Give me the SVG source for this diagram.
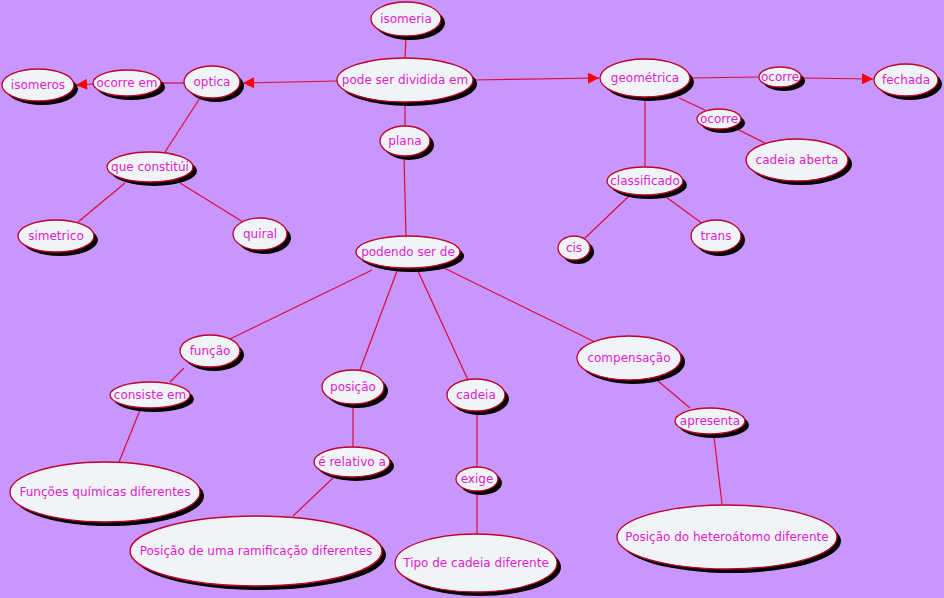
<svg xmlns="http://www.w3.org/2000/svg" width="944" height="598" viewBox="0 0 944 598">
<defs>
<marker id="arr" viewBox="0 0 10 10" refX="10" refY="5" markerWidth="12" markerHeight="11" markerUnits="userSpaceOnUse" orient="auto">
<path d="M0,0 L10,5 L0,10 Z" fill="#ff0000"/>
</marker>
</defs>
<style>
.bg{fill:#c896fd}
.sh{fill:#000000}
.nd{fill:#f0f4f6;stroke:#c0002a;stroke-width:1.3}
.t{font-family:"DejaVu Sans","Liberation Sans",sans-serif;font-size:12px;fill:#e020d0;text-anchor:middle;dominant-baseline:central}
.c line{stroke:#dc0a3a;stroke-width:1.2}
.c line.a{marker-end:url(#arr)}
</style>
<rect class="bg" x="0" y="0" width="944" height="598"/>
<g class="c" id="connectors">
<line x1="406" y1="37" x2="405" y2="58"/>
<line class="a" x1="337" y1="81" x2="243" y2="83"/>
<line x1="184" y1="83" x2="161" y2="83"/>
<line class="a" x1="93" y1="84" x2="76" y2="85"/>
<line class="a" x1="473" y1="80" x2="599" y2="78"/>
<line x1="690" y1="78" x2="759" y2="77"/>
<line class="a" x1="802" y1="78" x2="873" y2="79"/>
<line x1="679" y1="98" x2="705" y2="110"/>
<line x1="735" y1="128" x2="765" y2="143"/>
<line x1="645" y1="98" x2="645" y2="168"/>
<line x1="628" y1="197" x2="585" y2="238"/>
<line x1="666" y1="197" x2="703" y2="224"/>
<line x1="405" y1="102" x2="405" y2="126"/>
<line x1="404" y1="157" x2="406" y2="236"/>
<line x1="200" y1="98" x2="165" y2="152"/>
<line x1="125" y1="183" x2="78" y2="222"/>
<line x1="180" y1="183" x2="243" y2="222"/>
<line x1="372" y1="270" x2="228" y2="340"/>
<line x1="184" y1="368" x2="170" y2="382"/>
<line x1="140" y1="410" x2="119" y2="462"/>
<line x1="397" y1="271" x2="360" y2="370"/>
<line x1="353" y1="404" x2="353" y2="447"/>
<line x1="333" y1="478" x2="293" y2="516"/>
<line x1="418" y1="271" x2="468" y2="380"/>
<line x1="477" y1="412" x2="477" y2="467"/>
<line x1="477" y1="494" x2="477" y2="534"/>
<line x1="440" y1="266" x2="595" y2="342"/>
<line x1="658" y1="381" x2="690" y2="408"/>
<line x1="714" y1="437" x2="722" y2="504"/>
</g>
<g id="n-isomeria"><ellipse class="sh" cx="410" cy="23" rx="35" ry="17"/><ellipse class="nd" cx="406" cy="19" rx="35" ry="17"/><text class="t" x="406" y="19">isomeria</text></g>
<g id="n-pode"><ellipse class="sh" cx="409" cy="84" rx="68" ry="22"/><ellipse class="nd" cx="405" cy="80" rx="68" ry="22"/><text class="t" x="405" y="80">pode ser dividida em</text></g>
<g id="n-isomeros"><ellipse class="sh" cx="42" cy="89" rx="36" ry="16"/><ellipse class="nd" cx="38" cy="85" rx="36" ry="16"/><text class="t" x="38" y="85">isomeros</text></g>
<g id="n-ocorre-em"><ellipse class="sh" cx="131" cy="87" rx="34" ry="13"/><ellipse class="nd" cx="127" cy="83" rx="34" ry="13"/><text class="t" x="127" y="83">ocorre em</text></g>
<g id="n-optica"><ellipse class="sh" cx="216" cy="86" rx="28" ry="16"/><ellipse class="nd" cx="212" cy="82" rx="28" ry="16"/><text class="t" x="212" y="82">optica</text></g>
<g id="n-geometrica"><ellipse class="sh" cx="649" cy="82" rx="45" ry="19"/><ellipse class="nd" cx="645" cy="78" rx="45" ry="19"/><text class="t" x="645" y="78">geométrica</text></g>
<g id="n-ocorre1"><ellipse class="sh" cx="784" cy="81" rx="21" ry="10"/><ellipse class="nd" cx="780" cy="77" rx="21" ry="10"/><text class="t" x="780" y="77">ocorre</text></g>
<g id="n-fechada"><ellipse class="sh" cx="910" cy="84" rx="32" ry="16"/><ellipse class="nd" cx="906" cy="80" rx="32" ry="16"/><text class="t" x="906" y="80">fechada</text></g>
<g id="n-ocorre2"><ellipse class="sh" cx="723" cy="123" rx="22" ry="10"/><ellipse class="nd" cx="719" cy="119" rx="22" ry="10"/><text class="t" x="719" y="119">ocorre</text></g>
<g id="n-cadeia-aberta"><ellipse class="sh" cx="801" cy="164" rx="51" ry="21"/><ellipse class="nd" cx="797" cy="160" rx="51" ry="21"/><text class="t" x="797" y="160">cadeia aberta</text></g>
<g id="n-plana"><ellipse class="sh" cx="409" cy="145" rx="25" ry="15"/><ellipse class="nd" cx="405" cy="141" rx="25" ry="15"/><text class="t" x="405" y="141">plana</text></g>
<g id="n-que-constitui"><ellipse class="sh" cx="154" cy="171" rx="43" ry="15"/><ellipse class="nd" cx="150" cy="167" rx="43" ry="15"/><text class="t" x="150" y="167">que constitúi</text></g>
<g id="n-simetrico"><ellipse class="sh" cx="60" cy="240" rx="38" ry="16"/><ellipse class="nd" cx="56" cy="236" rx="38" ry="16"/><text class="t" x="56" y="236">simetrico</text></g>
<g id="n-quiral"><ellipse class="sh" cx="264" cy="238" rx="27" ry="16"/><ellipse class="nd" cx="260" cy="234" rx="27" ry="16"/><text class="t" x="260" y="234">quiral</text></g>
<g id="n-classificado"><ellipse class="sh" cx="649" cy="185" rx="38" ry="14"/><ellipse class="nd" cx="645" cy="181" rx="38" ry="14"/><text class="t" x="645" y="181">classificado</text></g>
<g id="n-cis"><ellipse class="sh" cx="578" cy="252" rx="16" ry="12"/><ellipse class="nd" cx="574" cy="248" rx="16" ry="12"/><text class="t" x="574" y="248">cis</text></g>
<g id="n-trans"><ellipse class="sh" cx="720" cy="240" rx="25" ry="16"/><ellipse class="nd" cx="716" cy="236" rx="25" ry="16"/><text class="t" x="716" y="236">trans</text></g>
<g id="n-podendo"><ellipse class="sh" cx="412" cy="256" rx="52" ry="16"/><ellipse class="nd" cx="408" cy="252" rx="52" ry="16"/><text class="t" x="408" y="252">podendo ser de</text></g>
<g id="n-funcao"><ellipse class="sh" cx="214" cy="355" rx="30" ry="16"/><ellipse class="nd" cx="210" cy="351" rx="30" ry="16"/><text class="t" x="210" y="351">função</text></g>
<g id="n-consiste"><ellipse class="sh" cx="154" cy="399" rx="40" ry="13"/><ellipse class="nd" cx="150" cy="395" rx="40" ry="13"/><text class="t" x="150" y="395">consiste em</text></g>
<g id="n-funcoes"><ellipse class="sh" cx="109" cy="496" rx="95" ry="30"/><ellipse class="nd" cx="105" cy="492" rx="95" ry="30"/><text class="t" x="105" y="492">Funções químicas diferentes</text></g>
<g id="n-posicao"><ellipse class="sh" cx="357" cy="391" rx="31" ry="17"/><ellipse class="nd" cx="353" cy="387" rx="31" ry="17"/><text class="t" x="353" y="387">posição</text></g>
<g id="n-relativo"><ellipse class="sh" cx="356" cy="466" rx="38" ry="15"/><ellipse class="nd" cx="352" cy="462" rx="38" ry="15"/><text class="t" x="352" y="462">é relativo a</text></g>
<g id="n-ramificacao"><ellipse class="sh" cx="260" cy="555" rx="126" ry="35"/><ellipse class="nd" cx="256" cy="551" rx="126" ry="35"/><text class="t" x="256" y="551">Posição de uma ramificação diferentes</text></g>
<g id="n-cadeia"><ellipse class="sh" cx="480" cy="399" rx="29" ry="16"/><ellipse class="nd" cx="476" cy="395" rx="29" ry="16"/><text class="t" x="476" y="395">cadeia</text></g>
<g id="n-exige"><ellipse class="sh" cx="481" cy="483" rx="21" ry="12"/><ellipse class="nd" cx="477" cy="479" rx="21" ry="12"/><text class="t" x="477" y="479">exige</text></g>
<g id="n-tipo"><ellipse class="sh" cx="480" cy="567" rx="81" ry="29"/><ellipse class="nd" cx="476" cy="563" rx="81" ry="29"/><text class="t" x="476" y="563">Tipo de cadeia diferente</text></g>
<g id="n-compensacao"><ellipse class="sh" cx="633" cy="362" rx="52" ry="22"/><ellipse class="nd" cx="629" cy="358" rx="52" ry="22"/><text class="t" x="629" y="358">compensação</text></g>
<g id="n-apresenta"><ellipse class="sh" cx="714" cy="425" rx="35" ry="13"/><ellipse class="nd" cx="710" cy="421" rx="35" ry="13"/><text class="t" x="710" y="421">apresenta</text></g>
<g id="n-heteroatomo"><ellipse class="sh" cx="731" cy="541" rx="110" ry="32"/><ellipse class="nd" cx="727" cy="537" rx="110" ry="32"/><text class="t" x="727" y="537">Posição do heteroátomo diferente</text></g>
</svg>
